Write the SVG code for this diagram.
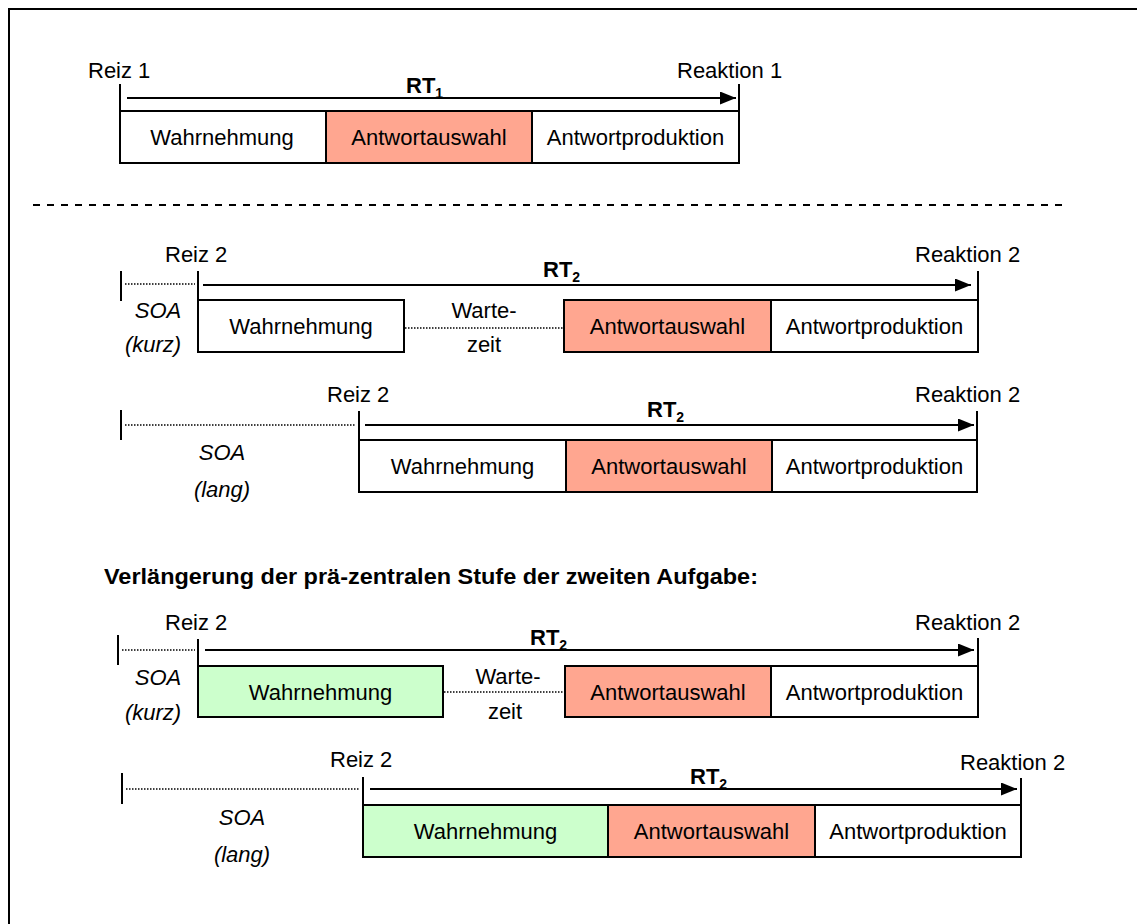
<svg xmlns="http://www.w3.org/2000/svg" width="1137" height="924" viewBox="0 0 1137 924">
  <defs>
    <marker id="ah" markerUnits="userSpaceOnUse" markerWidth="17" markerHeight="13" refX="16" refY="6.5" orient="auto">
      <path d="M0,0 L16,6.5 L0,13 z" fill="#000"/>
    </marker>
    <style>
      text { font-family: "Liberation Sans", Arial, sans-serif; font-size: 22px; fill: #000; }
      .c { text-anchor: middle; }
      .it { font-style: italic; }
      .b { font-weight: bold; }
      .sub { font-size: 14px; }
      .head { font-size: 22.5px; font-weight: bold; }
      .box { stroke: #000; stroke-width: 2; }
      .white { fill: #fff; }
      .sal { fill: #FFA690; }
      .grn { fill: #CCFFCC; }
      .tick { stroke: #000; stroke-width: 2; fill: none; }
      .arrow { stroke: #000; stroke-width: 2.2; fill: none; marker-end: url(#ah); }
      .dot { stroke: #000; stroke-width: 1.6; stroke-dasharray: 1.5 1.5; fill: none; }
      .dash { stroke: #000; stroke-width: 2; stroke-dasharray: 7 7; fill: none; }
    </style>
  </defs>

  <rect width="1137" height="924" fill="#fff"/>
  <!-- frame -->
  <rect x="9" y="9" width="1200" height="1000" fill="none" stroke="#000" stroke-width="2"/>

  <!-- ===== Task 1 ===== -->
  <g id="t1-wahrnehmung"><rect class="box white" x="120" y="111" width="206" height="52"/><text class="c" x="222" y="145">Wahrnehmung</text></g>
  <g id="t1-auswahl"><rect class="box sal" x="326" y="111" width="206" height="52"/><text class="c" x="429" y="145">Antwortauswahl</text></g>
  <g id="t1-produktion"><rect class="box white" x="532" y="111" width="207" height="52"/><text class="c" x="635.5" y="145">Antwortproduktion</text></g>
  <g id="t1-labels">
    <text x="88" y="78">Reiz 1</text>
    <text x="677" y="78">Reaktion 1</text>
    <text class="b" x="406" y="93">RT<tspan class="sub" dy="5">1</tspan></text>
  </g>

  <!-- separator -->
  <line class="dash" x1="33" y1="205" x2="1062" y2="205"/>

  <!-- ===== Task 2, short SOA ===== -->
  <g id="r2-wahrnehmung"><rect class="box white" x="198" y="300" width="206" height="52"/><text class="c" x="301" y="334">Wahrnehmung</text></g>
  <g id="r2-auswahl"><rect class="box sal" x="564" y="300" width="207" height="52"/><text class="c" x="667.5" y="334">Antwortauswahl</text></g>
  <g id="r2-produktion"><rect class="box white" x="771" y="300" width="207" height="52"/><text class="c" x="874.5" y="334">Antwortproduktion</text></g>
  <g id="r2-labels">
    <text x="165" y="262">Reiz 2</text>
    <text x="915" y="262">Reaktion 2</text>
    <text class="b" x="543" y="277">RT<tspan class="sub" dy="5">2</tspan></text>
    <text class="c it" x="158" y="318">SOA</text>
    <text class="c it" x="153" y="352">(kurz)</text>
    <text class="c" x="484" y="318">Warte-</text>
    <text class="c" x="484" y="352">zeit</text>
  </g>

  <!-- ===== Task 2, long SOA ===== -->
  <g id="r3-wahrnehmung"><rect class="box white" x="359" y="440" width="207" height="52"/><text class="c" x="462.5" y="474">Wahrnehmung</text></g>
  <g id="r3-auswahl"><rect class="box sal" x="566" y="440" width="206" height="52"/><text class="c" x="669" y="474">Antwortauswahl</text></g>
  <g id="r3-produktion"><rect class="box white" x="772" y="440" width="205" height="52"/><text class="c" x="874.5" y="474">Antwortproduktion</text></g>
  <g id="r3-labels">
    <text x="327" y="402">Reiz 2</text>
    <text x="915" y="402">Reaktion 2</text>
    <text class="b" x="647" y="417">RT<tspan class="sub" dy="5">2</tspan></text>
    <text class="c it" x="222" y="460">SOA</text>
    <text class="c it" x="222" y="497">(lang)</text>
  </g>

  <!-- heading -->
  <text class="head" x="104" y="584" textLength="654" lengthAdjust="spacingAndGlyphs">Verlängerung der prä-zentralen Stufe der zweiten Aufgabe:</text>

  <!-- ===== Prolonged perception, short SOA ===== -->
  <g id="r4-wahrnehmung"><rect class="box grn" x="198" y="666" width="245" height="51"/><text class="c" x="320.5" y="700">Wahrnehmung</text></g>
  <g id="r4-auswahl"><rect class="box sal" x="565" y="666" width="206" height="51"/><text class="c" x="668" y="700">Antwortauswahl</text></g>
  <g id="r4-produktion"><rect class="box white" x="771" y="666" width="207" height="51"/><text class="c" x="874.5" y="700">Antwortproduktion</text></g>
  <g id="r4-labels">
    <text x="165" y="630">Reiz 2</text>
    <text x="915" y="630">Reaktion 2</text>
    <text class="b" x="530" y="645">RT<tspan class="sub" dy="5">2</tspan></text>
    <text class="c it" x="158" y="685">SOA</text>
    <text class="c it" x="153" y="720">(kurz)</text>
    <text class="c" x="508" y="684">Warte-</text>
    <text class="c" x="505" y="719">zeit</text>
  </g>

  <!-- ===== Prolonged perception, long SOA ===== -->
  <g id="r5-wahrnehmung"><rect class="box grn" x="363" y="805" width="245" height="52"/><text class="c" x="485.5" y="839">Wahrnehmung</text></g>
  <g id="r5-auswahl"><rect class="box sal" x="608" y="805" width="207" height="52"/><text class="c" x="711.5" y="839">Antwortauswahl</text></g>
  <g id="r5-produktion"><rect class="box white" x="815" y="805" width="206" height="52"/><text class="c" x="918" y="839">Antwortproduktion</text></g>
  <g id="r5-labels">
    <text x="330" y="767">Reiz 2</text>
    <text x="960" y="770">Reaktion 2</text>
    <text class="b" x="690" y="784">RT<tspan class="sub" dy="5">2</tspan></text>
    <text class="c it" x="242" y="825">SOA</text>
    <text class="c it" x="242" y="862">(lang)</text>
  </g>

  <!-- time marks, RT arrows, SOA and waiting intervals -->
  <g id="connectors">
    <!-- task 1 -->
    <line class="tick" x1="120" y1="84" x2="120" y2="163"/>
    <line class="tick" x1="739" y1="84" x2="739" y2="111"/>
    <line class="arrow" x1="127" y1="98" x2="736" y2="98"/>
    <!-- row 2 -->
    <line class="tick" x1="121" y1="271" x2="121" y2="301"/>
    <line class="dot" x1="125" y1="284" x2="195" y2="284"/>
    <line class="tick" x1="198" y1="271" x2="198" y2="300"/>
    <line class="arrow" x1="203" y1="285" x2="971" y2="285"/>
    <line class="tick" x1="978" y1="271" x2="978" y2="300"/>
    <line class="dot" x1="405" y1="328" x2="563" y2="328"/>
    <!-- row 3 -->
    <line class="tick" x1="121" y1="410" x2="121" y2="440"/>
    <line class="dot" x1="125" y1="425" x2="356" y2="425"/>
    <line class="tick" x1="359" y1="411" x2="359" y2="440"/>
    <line class="arrow" x1="365" y1="425" x2="974" y2="425"/>
    <line class="tick" x1="977" y1="411" x2="977" y2="440"/>
    <!-- row 4 -->
    <line class="tick" x1="118" y1="635" x2="118" y2="665"/>
    <line class="dot" x1="122" y1="650" x2="195" y2="650"/>
    <line class="tick" x1="198" y1="639" x2="198" y2="666"/>
    <line class="arrow" x1="205" y1="650" x2="974" y2="650"/>
    <line class="tick" x1="978" y1="638" x2="978" y2="666"/>
    <line class="dot" x1="444" y1="692" x2="564" y2="692"/>
    <!-- row 5 -->
    <line class="tick" x1="122" y1="773" x2="122" y2="804"/>
    <line class="dot" x1="126" y1="789" x2="360" y2="789"/>
    <line class="tick" x1="363" y1="777" x2="363" y2="805"/>
    <line class="arrow" x1="370" y1="789" x2="1017" y2="789"/>
    <line class="tick" x1="1021" y1="778" x2="1021" y2="805"/>
  </g>
</svg>
